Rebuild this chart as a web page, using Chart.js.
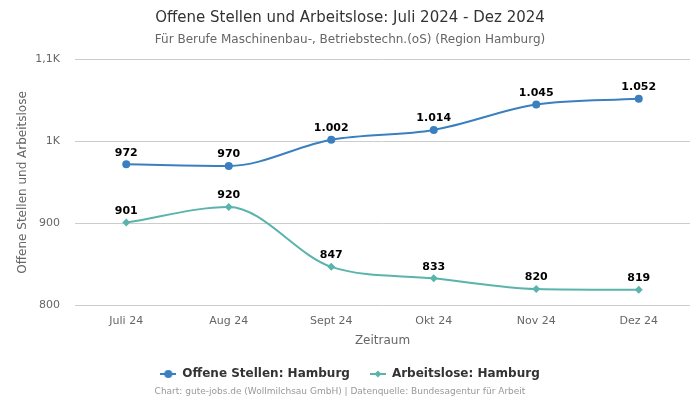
<!DOCTYPE html>
<html>
<head>
<meta charset="utf-8">
<script src="https://cdn.jsdelivr.net/npm/chart.js@4"></script>
<style>
  html, body { margin: 0; padding: 0; background: #fff; }
  #wrap { width: 700px; height: 400px; }
</style>
</head>
<body>
<div id="wrap"><canvas id="chart" width="700" height="400"></canvas></div>
<script>
const months = ["Juli 24", "Aug 24", "Sept 24", "Okt 24", "Nov 24", "Dez 24"];
const offeneStellen = [972, 970, 1002, 1014, 1045, 1052];
const arbeitslose = [901, 920, 847, 833, 820, 819];
const yTicks = [800, 900, 1000, 1100];

const blue = "#3a7fc0";
const teal = "#5ab4ac";

function legendIcon(color, style) {
  const c = document.createElement("canvas");
  c.width = 16; c.height = 10;
  const g = c.getContext("2d");
  g.strokeStyle = color; g.fillStyle = color; g.lineWidth = 2;
  g.beginPath(); g.moveTo(0, 5); g.lineTo(16, 5); g.stroke();
  g.beginPath();
  if (style === "circle") {
    g.arc(8, 5, 4, 0, Math.PI * 2);
  } else {
    g.moveTo(8, 1.5); g.lineTo(11.5, 5); g.lineTo(8, 8.5); g.lineTo(4.5, 5); g.closePath();
  }
  g.fill();
  return c;
}

const fmt = (v) => v.toLocaleString("de-DE");

// draws the value above every point
const valueLabels = {
  id: "valueLabels",
  afterDatasetsDraw(chart) {
    const ctx = chart.ctx;
    ctx.save();
    ctx.font = "bold 11px 'DejaVu Sans'";
    ctx.fillStyle = "#000";
    ctx.textAlign = "center";
    ctx.textBaseline = "bottom";
    chart.data.datasets.forEach((ds, i) => {
      chart.getDatasetMeta(i).data.forEach((pt, j) => {
        ctx.fillText(fmt(ds.data[j]), pt.x, pt.y - 6);
      });
    });
    ctx.restore();
  }
};

const footer = {
  id: "footer",
  afterDraw(chart) {
    const ctx = chart.ctx;
    ctx.save();
    ctx.font = "9px 'DejaVu Sans'";
    ctx.fillStyle = "#999";
    ctx.textAlign = "center";
    ctx.textBaseline = "middle";
    ctx.fillText("Chart: gute-jobs.de (Wollmilchsau GmbH) | Datenquelle: Bundesagentur für Arbeit", 340, 392);
    ctx.restore();
  }
};

let ctx = document.getElementById("chart").getContext("2d");
let myChart = new Chart(ctx, {
  type: "line",
  data: {
    labels: months,
    datasets: [
      {
        label: "Offene Stellen: Hamburg",
        data: offeneStellen,
        borderColor: blue,
        backgroundColor: blue,
        pointStyle: "circle",
        pointRadius: 4,
        pointHoverRadius: 4,
        pointBorderWidth: 0,
        borderWidth: 2,
        cubicInterpolationMode: "monotone",
        legendIcon: legendIcon(blue, "circle"),
      },
      {
        label: "Arbeitslose: Hamburg",
        data: arbeitslose,
        borderColor: teal,
        backgroundColor: teal,
        pointStyle: "rectRot",
        pointRadius: 4,
        pointHoverRadius: 4,
        pointBorderWidth: 0,
        borderWidth: 2,
        cubicInterpolationMode: "monotone",
        legendIcon: legendIcon(teal, "diamond"),
      },
    ],
  },
  options: {
    responsive: false,
    animation: false,
    layout: { padding: { left: 10, right: 10, top: 0, bottom: 10 } },
    plugins: {
      title: {
        display: true,
        text: "Offene Stellen und Arbeitslose: Juli 2024 - Dez 2024",
        color: "#333",
        font: { family: "DejaVu Sans", size: 15, weight: "normal" },
        padding: { top: 9, bottom: 6 },
      },
      subtitle: {
        display: true,
        text: "Für Berufe Maschinenbau-, Betriebstechn.(oS) (Region Hamburg)",
        color: "#666",
        font: { family: "DejaVu Sans", size: 12 },
        padding: { bottom: 12 },
      },
      legend: {
        position: "bottom",
        labels: {
          usePointStyle: true,
          pointStyleWidth: 16,
          color: "#333",
          font: { family: "DejaVu Sans", size: 12, weight: "bold" },
          padding: 20,
          generateLabels(chart) {
            return chart.data.datasets.map((ds, i) => ({
              text: ds.label,
              pointStyle: ds.legendIcon,
              fillStyle: ds.borderColor,
              strokeStyle: ds.borderColor,
              fontColor: "#333",
              datasetIndex: i,
              hidden: false,
            }));
          },
        },
      },
      tooltip: { enabled: false },
    },
    scales: {
      x: {
        offset: true,
        grid: { display: false },
        border: { display: false },
        ticks: { color: "#666", font: { family: "DejaVu Sans", size: 11 }, padding: 1 },
        title: {
          display: true,
          text: "Zeitraum",
          color: "#666",
          font: { family: "DejaVu Sans", size: 12 },
          padding: { top: 5, bottom: 0 },
        },
      },
      y: {
        min: 800,
        max: 1100,
        afterBuildTicks(axis) {
          axis.ticks = yTicks.map((v) => ({ value: v }));
        },
        afterFit(axis) {
          axis.width = 65;
        },
        grid: { color: "#ccc", drawTicks: false },
        border: { display: false },
        ticks: {
          color: "#666",
          font: { family: "DejaVu Sans", size: 11 },
          padding: 15,
          callback: (v) => (v >= 1000 ? fmt(v / 1000) + "K" : v),
        },
        title: {
          display: true,
          text: "Offene Stellen und Arbeitslose",
          color: "#666",
          font: { family: "DejaVu Sans", size: 12 },
          padding: { top: 6, bottom: 4 },
        },
      },
    },
  },
  plugins: [valueLabels, footer],
});
</script>
</body>
</html>
